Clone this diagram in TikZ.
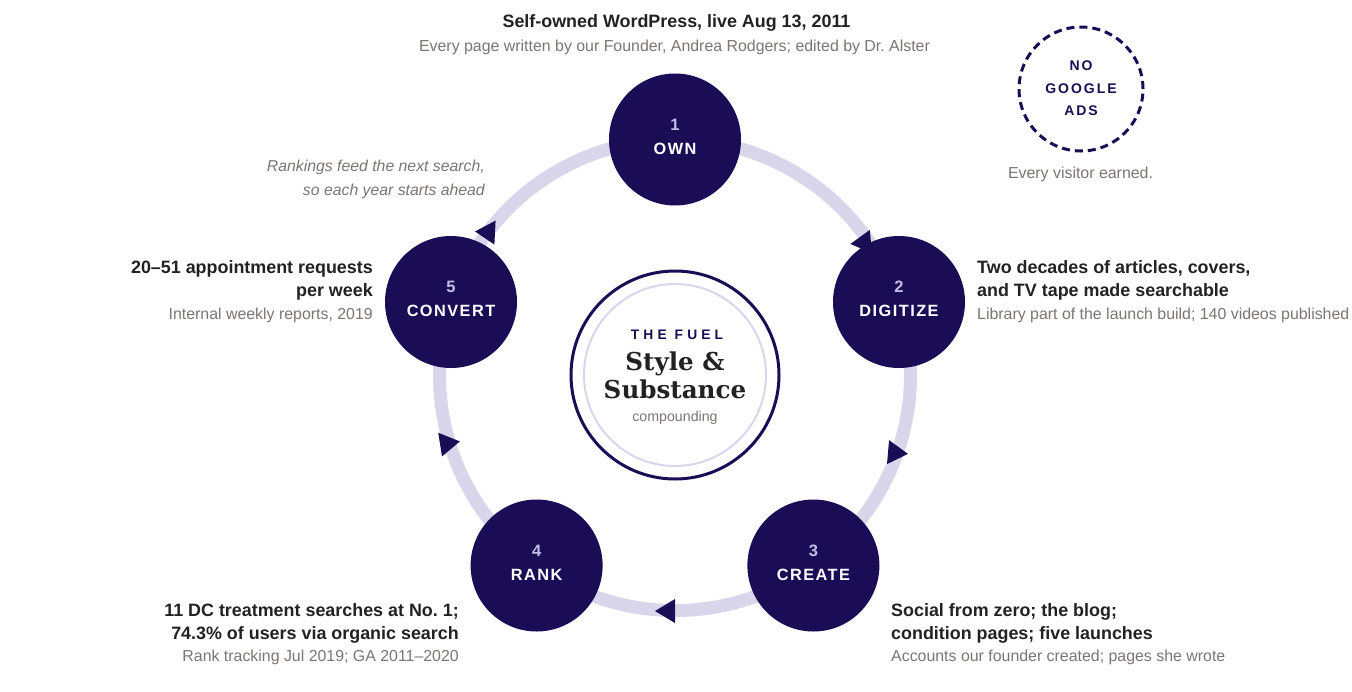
\documentclass[tikz,border=0pt]{standalone}
\usepackage{fontspec}
\setmainfont{Liberation Sans}
\newfontfamily\spacedlbl{Liberation Sans}[LetterSpace=9]
\newfontfamily\spacedwide{Liberation Sans}[LetterSpace=30]
\newfontfamily\spacedads{Liberation Sans}[LetterSpace=14]
\newfontfamily\fuelserif{DejaVu Serif}
\definecolor{navy}{HTML}{1B0D55}
\definecolor{ringcol}{HTML}{D9D6EB}
\definecolor{numcol}{HTML}{C3BEE6}
\definecolor{graytxt}{HTML}{7D7570}
\definecolor{darktxt}{HTML}{222222}
\frenchspacing
\tikzset{
  stage/.style={circle, fill=navy, minimum size=132pt, inner sep=0pt},
  numtxt/.style={anchor=base, text=numcol, inner sep=0pt, font=\fontsize{16.5}{17}\selectfont\bfseries},
  lbltxt/.style={anchor=base, text=white, inner sep=0pt, font=\spacedlbl\fontsize{16.3}{17}\selectfont\bfseries},
  head/.style={text=darktxt, inner sep=0pt, font=\fontsize{17.9}{18}\selectfont\bfseries},
  subtxt/.style={text=graytxt, inner sep=0pt, font=\fontsize{15.9}{16}\selectfont},
  ringline/.style={draw=ringcol, line width=13pt},
  arrowtri/.style={fill=navy},
}
\begin{document}
\begin{tikzpicture}[x=1pt, y=-1pt]
\useasboundingbox (0,0) rectangle (1352,691);
\fill[white] (0,0) rectangle (1352,691);

% ring
\coordinate (c) at (675,375);
\draw[ringline] (c) circle[radius=235.5pt];

% direction markers on the ring
\fill[arrowtri, shift={(866,245)}, rotate=-54] (10,0) -- (-10,12) -- (-10,-12) -- cycle;
\fill[arrowtri, shift={(898,453)}, rotate=-5] (10,0) -- (-10,12) -- (-10,-12) -- cycle;
\fill[arrowtri, shift={(665,611)}, rotate=180] (10,0) -- (-10,12) -- (-10,-12) -- cycle;
\fill[arrowtri, shift={(450,443)}, rotate=9] (10,0) -- (-10,12) -- (-10,-12) -- cycle;
\fill[arrowtri, shift={(485,232)}, rotate=177] (10,0) -- (-10,12) -- (-10,-12) -- cycle;

% stages
\node[stage] (n1) at (675,139.5) {};
\node[stage] (n2) at (899,302) {};
\node[stage] (n3) at (813.4,565.5) {};
\node[stage] (n4) at (536.6,565.5) {};
\node[stage] (n5) at (451,302) {};

\foreach \n/\num/\lbl in {n1/1/OWN, n2/2/DIGITIZE, n3/3/CREATE, n4/4/RANK, n5/5/CONVERT}{
  \node[numtxt] (\n num) at ([yshift=9.5pt]\n.center) {\num};
  \node[lbltxt] (\n lbl) at ([yshift=-14.5pt]\n.center) {\lbl};
}

% center
\node[circle, draw=navy, line width=3pt, minimum size=208pt, inner sep=0pt] (hub) at (c) {};
\node[circle, draw=ringcol, line width=2pt, minimum size=182pt, inner sep=0pt] (hubin) at (c) {};
\node[anchor=base, text=navy, inner sep=0pt, font=\spacedwide\fontsize{13.8}{14}\selectfont\bfseries] (fuel) at (677,339) {THE FUEL};
\node[anchor=base, text=darktxt, inner sep=0pt, font=\fuelserif\fontsize{24.6}{25}\selectfont\bfseries] (style) at (675,370) {Style \&};
\node[anchor=base, text=darktxt, inner sep=0pt, font=\fuelserif\fontsize{24.6}{25}\selectfont\bfseries] (subst) at (675,398.3) {Substance};
\node[anchor=base, text=graytxt, inner sep=0pt, font=\fontsize{14.2}{15}\selectfont] (comp) at (675,421.5) {compounding};

% top
\node[head, anchor=base] (t1) at (676.5,27) {Self-owned WordPress, live Aug 13, 2011};
\node[subtxt, anchor=base] (t2) at (674.5,51) {Every page written by our Founder, Andrea Rodgers; edited by Dr. Alster};

% node 2 text
\node[head, anchor=base west] (d1) at (977,273) {Two decades of articles, covers,};
\node[head, anchor=base west] (d2) at (977,296) {and TV tape made searchable};
\node[subtxt, anchor=base west] (d3) at (977,319) {Library part of the launch build; 140 videos published};

% node 5 text
\node[head, anchor=base east] (v1) at (373,273) {20--51 appointment requests};
\node[head, anchor=base east] (v2) at (373,296) {per week};
\node[subtxt, anchor=base east] (v3) at (373,319) {Internal weekly reports, 2019};

% node 4 text
\node[head, anchor=base east] (r1) at (459,616) {11 DC treatment searches at No. 1;};
\node[head, anchor=base east] (r2) at (459,639) {74.3\% of users via organic search};
\node[subtxt, anchor=base east] (r3) at (459,661.5) {Rank tracking Jul 2019; GA 2011--2020};

% node 3 text
\node[head, anchor=base west] (s1) at (891,616) {Social from zero; the blog;};
\node[head, anchor=base west] (s2) at (891,639) {condition pages; five launches};
\node[subtxt, anchor=base west] (s3) at (891,661.5) {Accounts our founder created; pages she wrote};

% feedback note
\node[subtxt, anchor=base east, font=\fontsize{15.8}{16}\selectfont\itshape] (f1) at (485,171.7) {Rankings feed the next search,};
\node[subtxt, anchor=base east, font=\fontsize{15.8}{16}\selectfont\itshape] (f2) at (485,195) {so each year starts ahead};

% badge
\node[circle, draw=navy, line width=3pt, dash pattern=on 8pt off 5pt, minimum size=124pt, inner sep=0pt] (badge) at (1081,89) {};
\node[anchor=base, text=navy, inner sep=0pt, font=\spacedads\fontsize{14}{14}\selectfont\bfseries] (b1) at (1081,70.7) {NO};
\node[anchor=base, text=navy, inner sep=0pt, font=\spacedads\fontsize{14}{14}\selectfont\bfseries] (b2) at (1081,93.3) {GOOGLE};
\node[anchor=base, text=navy, inner sep=0pt, font=\spacedads\fontsize{14}{14}\selectfont\bfseries] (b3) at (1081,115) {ADS};
\node[subtxt, anchor=base] (b4) at (1080.5,178.5) {Every visitor earned.};
\end{tikzpicture}
\end{document}
